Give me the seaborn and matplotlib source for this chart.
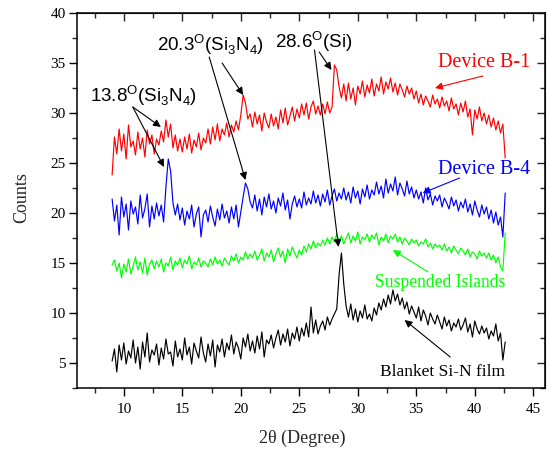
import numpy as np
import pandas as pd
import matplotlib.pyplot as plt
from matplotlib.ticker import MultipleLocator
import seaborn as sns

# 2theta scan: 9.0 -> 42.6 deg, 0.2 deg step
scan_start = 9.0
scan_step = 0.2

device_b1 = [
    23.8, 27.6, 25.9, 28.4, 26.2, 27.9, 25.4, 28.8, 26.6, 27.2,
    25.8, 28.1, 26.4, 27.5, 25.6, 28.3, 26.9, 27.8, 25.9, 27.4,
    26.8, 28.2, 27.1, 29.3, 27.6, 28.9, 26.5, 27.8, 26.2, 27.4,
    26.1, 27.6, 26.4, 27.9, 26.0, 27.3, 26.6, 28.0, 26.3, 27.5,
    27.0, 28.4, 26.9, 28.6, 27.3, 28.9, 27.2, 28.4, 27.8, 29.0,
    27.6, 28.8, 28.1, 29.2, 28.3, 29.8, 31.8, 31.0, 29.4, 29.9,
    28.6, 30.1, 28.9, 29.8, 28.2, 30.0, 29.1, 28.5, 29.9, 28.7,
    29.6, 28.4, 30.3, 29.0, 30.5, 28.8, 29.7, 30.6, 29.2, 30.4,
    29.5, 30.9, 29.8, 31.0, 29.4, 30.6, 31.2, 29.9, 30.7, 29.8,
    30.9, 29.9, 31.1, 30.0, 30.6, 34.8, 34.3, 32.6, 31.5, 32.9,
    31.2, 33.0, 31.4, 32.5, 30.8, 32.7, 31.9, 33.2, 31.6, 32.8,
    32.0, 33.4, 31.7, 32.9, 32.2, 33.6, 31.9, 33.1, 32.4, 33.5,
    32.1, 33.0, 31.8, 32.9, 32.3, 31.6, 32.7, 31.9, 32.5, 31.4,
    32.2, 31.0, 31.9, 30.8, 31.7, 31.2, 30.6, 31.8, 30.9, 31.4,
    30.5, 31.6, 30.7, 31.2, 30.2, 31.5, 30.4, 30.9, 29.8, 31.0,
    30.1, 31.2, 29.6, 30.4, 27.8, 30.3, 29.4, 30.6, 29.2, 30.0,
    28.9, 29.8, 28.6, 29.5, 28.3, 29.2, 28.0, 28.9, 25.5,
]

device_b4 = [
    21.4, 19.2, 20.8, 17.8, 21.6, 19.6, 20.9, 18.3, 21.2, 19.9,
    20.6, 18.9, 21.8, 19.5, 20.4, 21.9, 18.6, 20.7, 19.4, 21.0,
    19.7, 20.8, 19.1, 22.6, 25.4, 24.2, 21.0, 19.8, 20.9, 19.3,
    20.5, 18.8, 20.2, 19.4, 20.8, 18.6, 19.9, 20.6, 17.6, 19.8,
    20.3, 19.1, 20.7, 19.6, 18.7, 20.4, 19.3, 20.9, 19.5, 20.2,
    19.0, 20.6, 19.4, 20.8, 18.6, 20.1, 21.6, 23.0, 22.4, 21.1,
    20.5, 21.8, 20.2, 21.4, 19.8, 21.6, 20.6, 21.9, 20.4, 21.2,
    20.0, 21.5, 20.7, 22.0, 20.3, 21.3, 19.4, 20.9, 21.7, 20.6,
    21.4, 20.5, 22.1, 20.8, 21.5, 20.9, 22.2, 21.0, 21.8, 20.7,
    21.9, 21.1, 22.3, 20.8, 21.7, 22.4, 21.2, 22.0, 21.4, 22.5,
    21.3, 22.1, 21.0, 22.6, 21.5, 22.2, 20.9, 22.4, 21.6, 22.8,
    21.4, 22.3, 21.8, 23.1, 21.9, 22.7, 21.5, 23.4, 22.0, 22.9,
    22.2, 23.6, 21.8, 23.0, 22.4, 21.7, 23.2, 21.9, 22.6, 21.5,
    22.3, 21.4, 22.1, 21.0, 22.5, 21.3, 21.9, 20.8, 21.7, 21.2,
    21.8, 20.6, 21.5, 21.0, 20.4, 21.6, 20.7, 21.3, 20.2, 21.1,
    20.5, 21.4, 20.1, 20.9, 19.8, 21.2, 20.3, 19.6, 20.8, 19.9,
    20.6, 19.4, 20.3, 19.0, 20.1, 18.8, 19.6, 17.6, 22.0,
]

suspended_islands = [
    14.8, 15.3, 14.2, 15.0, 13.5, 14.9, 14.1, 15.4, 13.9, 14.7,
    15.6, 14.3, 15.1, 14.0, 15.5, 13.8, 14.9, 15.3, 14.4, 15.2,
    14.6, 15.4, 14.1, 15.0, 14.7, 15.6, 14.3, 15.2, 14.8, 15.5,
    14.5, 15.3, 14.9, 15.7, 14.4, 15.1, 14.8, 15.5, 14.6, 15.2,
    15.0, 14.6, 15.4, 14.8, 15.6, 14.9, 15.3, 14.7, 15.5, 15.1,
    14.8, 15.7, 15.2, 15.9, 15.0, 15.6, 15.3, 16.1, 15.4, 15.9,
    15.5, 16.2, 15.3, 15.8, 16.4, 15.2, 16.0, 15.6, 16.3, 15.1,
    15.9, 16.5, 15.6, 16.2, 15.0, 16.4, 15.7, 16.6, 16.0, 15.5,
    16.3, 15.8, 16.7, 16.1, 16.9, 16.4, 17.2, 16.5, 17.0, 16.7,
    17.3, 16.8, 17.5, 16.9, 17.6, 17.1, 17.9, 17.2, 17.7, 16.9,
    17.5, 18.0, 17.0, 17.7, 17.2, 18.1, 16.9, 17.6, 17.3, 17.9,
    17.1, 17.8, 17.4, 18.0, 16.8, 17.6, 17.2, 17.9, 17.0, 17.7,
    17.4, 17.9, 17.1, 17.6, 16.9, 17.5, 17.2, 16.8, 17.4, 17.0,
    17.3, 16.7, 17.1, 16.9, 17.4, 16.6, 17.0, 16.4, 16.9, 16.6,
    16.8, 16.3, 16.9, 16.2, 16.6, 16.0, 16.7, 16.3, 15.9, 16.5,
    16.2, 15.8, 16.4, 15.6, 16.1, 15.9, 15.4, 16.2, 15.7, 16.0,
    15.5, 16.0, 15.3, 15.8, 15.0, 15.6, 14.6, 14.2, 18.0,
]

blanket_film = [
    5.2, 6.4, 4.1, 6.8, 5.3, 7.0, 4.9, 6.2, 5.5, 7.3,
    5.0, 6.6, 4.4, 7.1, 5.6, 8.0, 5.1, 6.3, 5.8, 6.9,
    4.8, 6.5, 5.4, 7.4, 5.9, 6.1, 4.7, 7.2, 5.6, 6.4,
    5.3, 7.5, 5.8, 6.6, 4.9, 7.0, 6.2, 5.5, 7.6, 6.0,
    5.1, 6.9, 5.7, 7.3, 4.6, 6.8, 6.1, 7.4, 5.6, 7.0,
    6.3, 7.8, 5.9, 7.1, 6.5, 5.4, 7.5, 6.6, 7.9, 6.2,
    7.2, 6.0, 7.7, 6.4, 8.1, 5.6, 7.3, 6.9, 7.8, 6.5,
    7.5, 8.3, 6.8, 7.9, 7.1, 8.4, 6.7, 8.0, 7.4, 8.6,
    7.2, 8.5, 7.7, 9.0, 7.6, 10.6, 8.0, 9.3, 7.9, 8.7,
    9.2, 8.3, 9.6, 8.8, 9.4, 9.9, 10.4, 13.8, 16.0, 12.9,
    10.7, 9.6, 10.9, 9.3, 10.4, 9.1, 10.2, 9.5, 10.8, 9.4,
    9.9, 9.2, 10.5, 9.8, 11.0, 10.3, 11.4, 10.6, 11.8, 10.9,
    12.3, 11.2, 11.9, 10.8, 11.5, 10.4, 11.1, 9.9, 10.7, 10.1,
    9.5, 10.6, 9.2, 10.3, 9.7, 8.8, 10.0, 9.4, 8.9, 9.8,
    9.1, 8.4, 9.6, 8.7, 9.3, 8.2, 9.0, 8.6, 9.4, 8.3,
    8.8, 9.5, 8.1, 8.9, 7.6, 9.2, 8.4, 7.9, 8.7, 8.0,
    8.5, 7.4, 8.2, 7.7, 8.9, 7.2, 8.0, 5.3, 7.1,
]

sample_names = ["Device B-1", "Device B-4", "Suspended Islands", "Blanket Si-N film"]
sample_colors = ["#ff0000", "#0000ff", "#00ff00", "#000000"]

frames = []
for name, vals in zip(sample_names, [device_b1, device_b4, suspended_islands, blanket_film]):
    two_theta = scan_start + scan_step * np.arange(len(vals))
    frames.append(pd.DataFrame({"two_theta": two_theta, "counts": vals, "sample": name}))
df = pd.concat(frames, ignore_index=True)

sns.set_style("ticks")
plt.rcParams['font.family'] = ['Liberation Serif', 'DejaVu Serif']
plt.rcParams['mathtext.fontset'] = 'custom'

fig = plt.figure(figsize=(5.47, 4.51), dpi=100)
ax = fig.add_axes([0.1408, 0.1397, 0.8555, 0.8315])

sns.lineplot(
    data=df,
    x="two_theta",
    y="counts",
    hue="sample",
    palette=dict(zip(sample_names, sample_colors)),
    estimator=None,
    sort=False,
    linewidth=0.85,
    legend=False,
    ax=ax
)

ax.set_xlim(6, 46)
ax.set_ylim(2.5, 40)
ax.set_xticks([10, 15, 20, 25, 30, 35, 40, 45])
ax.set_yticks([5, 10, 15, 20, 25, 30, 35, 40])
ax.xaxis.set_minor_locator(MultipleLocator(2.5))
ax.yaxis.set_minor_locator(MultipleLocator(2.5))

for sp in ax.spines.values():
    sp.set_visible(True)
    sp.set_linewidth(1.1)
    sp.set_color("black")

ax.tick_params(which='major', direction='out', length=6, width=1, labelsize=11, colors='black')
ax.tick_params(which='minor', direction='out', length=3.5, width=1)
ax.tick_params(axis='x', which='major', pad=5)
ax.tick_params(axis='y', which='major', pad=2)

# mirrored ticks pointing inwards on top and right
top = ax.secondary_xaxis('top')
top.xaxis.set_major_locator(MultipleLocator(5))
top.xaxis.set_minor_locator(MultipleLocator(2.5))
top.tick_params(which='major', direction='in', length=6, width=1, labeltop=False)
top.tick_params(which='minor', direction='in', length=3.5, width=1)
right = ax.secondary_yaxis('right')
right.yaxis.set_major_locator(MultipleLocator(5))
right.yaxis.set_minor_locator(MultipleLocator(2.5))
right.tick_params(which='major', direction='in', length=6, width=1, labelright=False)
right.tick_params(which='minor', direction='in', length=3.5, width=1)

ax.set_xlabel("2θ (Degree)", fontsize=13)
ax.set_ylabel("Counts", fontsize=13)
ax.xaxis.set_label_coords(0.481, -0.112)
ax.yaxis.set_label_coords(-0.100, 0.509)

# peak annotations
peak_font = dict(family='Liberation Sans', fontsize=13.5, color='black')
arrow_k = dict(arrowstyle='-|>', color='black', lw=0.8, mutation_scale=11, shrinkA=0, shrinkB=0)

ax.text(7.1, 31.1, r"13.8$^\mathregular{O}$(Si$_\mathregular{3}$N$_\mathregular{4}$)", ha='left', va='baseline', **peak_font)
ax.annotate("", xy=(13.17, 28.6), xytext=(10.77, 30.6), arrowprops=arrow_k)
ax.annotate("", xy=(13.43, 24.6), xytext=(10.77, 30.6), arrowprops=arrow_k)

ax.text(12.83, 36.2, r"20.3$^\mathregular{O}$(Si$_\mathregular{3}$N$_\mathregular{4}$)", ha='left', va='baseline', **peak_font)
ax.annotate("", xy=(20.2, 31.8), xytext=(18.4, 35.0), arrowprops=arrow_k)
ax.annotate("", xy=(20.4, 23.3), xytext=(17.3, 35.6), arrowprops=arrow_k)

ax.text(22.95, 36.5, r"28.6$^\mathregular{O}$(Si)", ha='left', va='baseline', **peak_font)
ax.annotate("", xy=(27.75, 34.3), xytext=(26.7, 36.1), arrowprops=arrow_k)
ax.annotate("", xy=(28.35, 16.6), xytext=(26.3, 36.3), arrowprops=arrow_k)

# sample labels
label_specs = [
    ("Device B-1", "#ff0000", 36.84, 34.6, 14.5, (36.6, 32.5), (40.7, 33.7)),
    ("Device B-4", "#0000ff", 36.84, 23.9, 14.5, (35.55, 22.0), (38.7, 23.5)),
    ("Suspended Islands", "#00ff00", 31.44, 12.6, 12.7, (33.0, 16.3), (36.0, 14.1)),
    ("Blanket Si-N film", "#000000", 31.87, 3.7, 12.5, (34.0, 9.3), (37.9, 5.6)),
]
for text, col, tx, ty, fs, tip, tail in label_specs:
    ax.text(tx, ty, text, color=col, fontsize=fs, ha='left', va='baseline')
    ax.annotate("", xy=tip, xytext=tail,
                arrowprops=dict(arrowstyle='-|>', color=col, lw=0.8, mutation_scale=11, shrinkA=0, shrinkB=0))

plt.savefig("out.png", dpi=100)
